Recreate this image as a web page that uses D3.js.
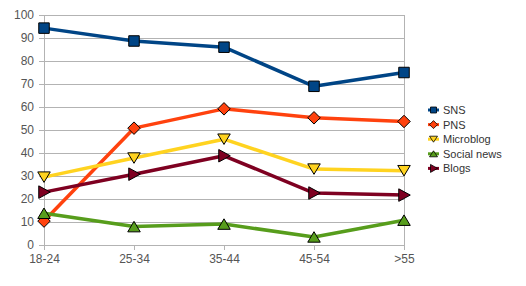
<!DOCTYPE html>
<html>
<head>
<meta charset="utf-8">
<title>Age groups</title>
<script src="https://d3js.org/d3.v7.min.js"></script>
<style>
  body { margin: 0; background: #fff; }
  svg { font-family: "Liberation Sans", Arial, sans-serif; }
</style>
</head>
<body>
<svg id="chart" width="526" height="286"></svg>
<script>
// data
let categories = ['18-24', '25-34', '35-44', '45-54', '>55'];
let seriesNames = ['SNS', 'PNS', 'Microblog', 'Social news', 'Blogs'];
let sns        = [94.3, 88.7, 86, 69, 75];
let pns        = [10.4, 50.8, 59.2, 55.3, 53.7];
let microblog  = [29.5, 37.8, 46, 33, 32.3];
let socialNews = [13.8, 8, 9.1, 3.5, 10.8];
let blogs      = [23, 30.8, 38.8, 22.6, 21.7];
let yTicks = [0, 10, 20, 30, 40, 50, 60, 70, 80, 90, 100];

let colors = ['#004586', '#ff420e', '#ffd320', '#579d1c', '#7e0021'];
let symbols = ['square', 'diamond', 'down', 'up', 'right'];
let values = [sns, pns, microblog, socialNews, blogs];

let margin = { top: 15, left: 44 };
let plotWidth = 360, plotHeight = 230;

let svg = d3.select('#chart');
let plot = svg.append('g').attr('transform', translate(margin.left, margin.top));

let x = d3.scalePoint().domain(categories).range([0, plotWidth]);
let y = d3.scaleLinear().domain([0, 100]).range([plotHeight, 0]);

// grid
plot.append('g').selectAll('line').data(yTicks).enter().append('line')
  .attr('x1', 0).attr('x2', plotWidth)
  .attr('y1', d => y(d)).attr('y2', d => y(d))
  .attr('stroke', '#b3b3b3').attr('stroke-width', 1).attr('shape-rendering', 'crispEdges');
plot.append('line').attr('x1', plotWidth).attr('x2', plotWidth).attr('y1', 0).attr('y2', plotHeight)
  .attr('stroke', '#b3b3b3').attr('shape-rendering', 'crispEdges');

// axes
let yAxis = d3.axisLeft(y).tickValues(yTicks).tickSize(5).tickPadding(5);
let yGroup = plot.append('g').call(yAxis);
let xAxis = d3.axisBottom(x).tickSize(5).tickPadding(4);
let xGroup = plot.append('g').attr('transform', translate(0, plotHeight)).call(xAxis);
[xGroup, yGroup].forEach(g => {
  g.select('.domain').attr('stroke', '#b3b3b3');
  g.selectAll('.tick line').attr('stroke', '#b3b3b3');
  g.selectAll('text').attr('fill', '#555').style('font-size', '12px')
    .style('font-family', '"Liberation Sans", Arial, sans-serif');
  g.attr('shape-rendering', 'crispEdges');
});
yGroup.select('.domain').attr('d', 'M0.5,0V' + plotHeight);

function markerPath(kind, s) {
  let h = s / 2;
  switch (kind) {
    case 'square': return `M${-h},${-h}H${h}V${h}H${-h}Z`;
    case 'diamond': return `M0,${-h - 1}L${h + 1},0L0,${h + 1}L${-h - 1},0Z`;
    case 'down': return `M${-h - 1},${-h}H${h + 1}L0,${h}Z`;
    case 'up': return `M${-h - 1},${h}H${h + 1}L0,${-h}Z`;
    case 'right': return `M${-h},${-h - 1}L${h + 1},0L${-h},${h + 1}Z`;
  }
}

let line = d3.line().x((d, i) => x(categories[i])).y(d => y(d));

values.forEach((vals, k) => {
  let g = plot.append('g');
  g.append('path').datum(vals).attr('d', line)
    .attr('fill', 'none').attr('stroke', colors[k]).attr('stroke-width', 3.5)
    .attr('stroke-linejoin', 'round');
  g.selectAll('path.m').data(vals).enter().append('path').attr('class', 'm')
    .attr('d', markerPath(symbols[k], 10.5))
    .attr('transform', (d, i) => translate(x(categories[i]), y(d)))
    .attr('fill', colors[k]).attr('stroke', '#000').attr('stroke-width', 1);
});

// legend
let legend = svg.append('g').attr('transform', translate(428, 110));
seriesNames.forEach((name, k) => {
  let row = legend.append('g').attr('transform', translate(0, k * 14.6));
  row.append('line').attr('x1', 0).attr('x2', 11).attr('y1', 0).attr('y2', 0)
    .attr('stroke', colors[k]).attr('stroke-width', 3);
  row.append('path').attr('d', markerPath(symbols[k], 6)).attr('transform', translate(5.5, 0))
    .attr('fill', colors[k]).attr('stroke', '#000').attr('stroke-width', 0.8);
  row.append('text').attr('x', 15).attr('y', 4).text(name)
    .attr('fill', '#333').style('font-size', '11px');
});

function translate(a, b) {
  return 'translate(' + a + ',' + b + ')';
}
</script>
</body>
</html>
